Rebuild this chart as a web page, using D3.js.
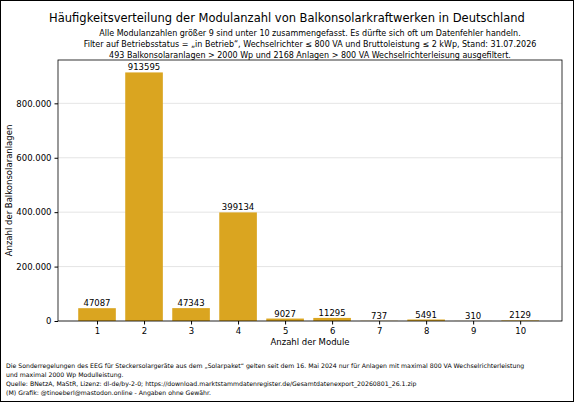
<!DOCTYPE html>
<html><head><meta charset="utf-8">
<script src="https://cdn.jsdelivr.net/npm/d3@7"></script>
<style>body{margin:0;background:#fff}text{font-family:"DejaVu Sans",sans-serif}</style>
</head><body>
<svg id="c" width="574" height="402"></svg>
<script>
const modules = [1,2,3,4,5,6,7,8,9,10];
const counts = [47087,913595,47343,399134,9027,11295,737,5491,310,2129];
const yTicks = [0,200000,400000,600000,800000];
const svg = d3.select("#c");
svg.append("rect").attr("x",0.5).attr("y",0.5).attr("width",573).attr("height",401).attr("fill","#fff").attr("stroke","#000");
const L=58,R=562,T=60,B=321;
const x=d3.scaleLinear().domain([0.17,10.89]).range([L,R]);
const y=d3.scaleLinear().domain([0,913595*1.05]).range([B,T]);
const fmt=v=>d3.format(",")(v).replace(/,/g,".");
const g=svg.append("g");
g.selectAll("line.grid").data(yTicks).join("line").attr("x1",L).attr("x2",R).attr("y1",d=>y(d)).attr("y2",d=>y(d)).attr("stroke","#ddd").attr("stroke-width",0.8);
const bw=(x(1.8)-x(1));
g.selectAll("rect.b").data(modules).join("rect").attr("x",(d)=>x(d)-bw/2).attr("width",bw).attr("y",(d,i)=>y(counts[i])).attr("height",(d,i)=>B-y(counts[i])).attr("fill","#DAA520");
g.selectAll("text.v").data(modules).join("text").attr("x",d=>x(d)).attr("y",(d,i)=>y(counts[i])-2).attr("text-anchor","middle").attr("font-size",8.5).text((d,i)=>counts[i]);
svg.append("rect").attr("x",L).attr("y",T).attr("width",R-L).attr("height",B-T).attr("fill","none").attr("stroke","#000").attr("stroke-width",0.8);
const xa=svg.append("g").attr("transform",`translate(0,${B})`).call(d3.axisBottom(x).tickValues(modules).tickSize(3.5).tickPadding(3));
const ya=svg.append("g").attr("transform",`translate(${L},0)`).call(d3.axisLeft(y).tickValues(yTicks).tickFormat(fmt).tickSize(3.5).tickPadding(3));
[xa,ya].forEach(a=>{a.select(".domain").remove();a.selectAll("text").attr("font-size",8.5).attr("font-family","DejaVu Sans");});
svg.append("text").attr("x",(L+R)/2).attr("y",345).attr("text-anchor","middle").attr("font-size",8.5).text("Anzahl der Module");
svg.append("text").attr("transform",`translate(12,${(T+B)/2}) rotate(-90)`).attr("text-anchor","middle").attr("font-size",8.5).text("Anzahl der Balkonsolaranlagen");
svg.append("text").attr("x",287).attr("y",22).attr("text-anchor","middle").attr("font-size",11.5).text("Häufigkeitsverteilung der Modulanzahl von Balkonsolarkraftwerken in Deutschland");
const sub=["Alle Modulanzahlen größer 9 sind unter 10 zusammengefasst. Es dürfte sich oft um Datenfehler handeln.","Filter auf Betriebsstatus = „in Betrieb“, Wechselrichter ≤ 800 VA und Bruttoleistung ≤ 2 kWp, Stand: 31.07.2026","493 Balkonsolaranlagen > 2000 Wp und 2168 Anlagen > 800 VA Wechselrichterleisung ausgefiltert."];
sub.forEach((s,i)=>svg.append("text").attr("x",310).attr("y",36+i*11).attr("text-anchor","middle").attr("font-size",8).text(s));
const foot=["Die Sonderregelungen des EEG für Steckersolargeräte aus dem „Solarpaket“ gelten seit dem 16. Mai 2024 nur für Anlagen mit maximal 800 VA Wechselrichterleistung","und maximal 2000 Wp Modulleistung.","Quelle: BNetzA, MaStR, Lizenz: dl-de/by-2-0; https://download.marktstammdatenregister.de/Gesamtdatenexport_20260801_26.1.zip","(M) Grafik: @tinoeberl@mastodon.online - Angaben ohne Gewähr."];
foot.forEach((s,i)=>svg.append("text").attr("x",6).attr("y",368+i*9).attr("font-size",6.2).text(s));
</script></body></html>
